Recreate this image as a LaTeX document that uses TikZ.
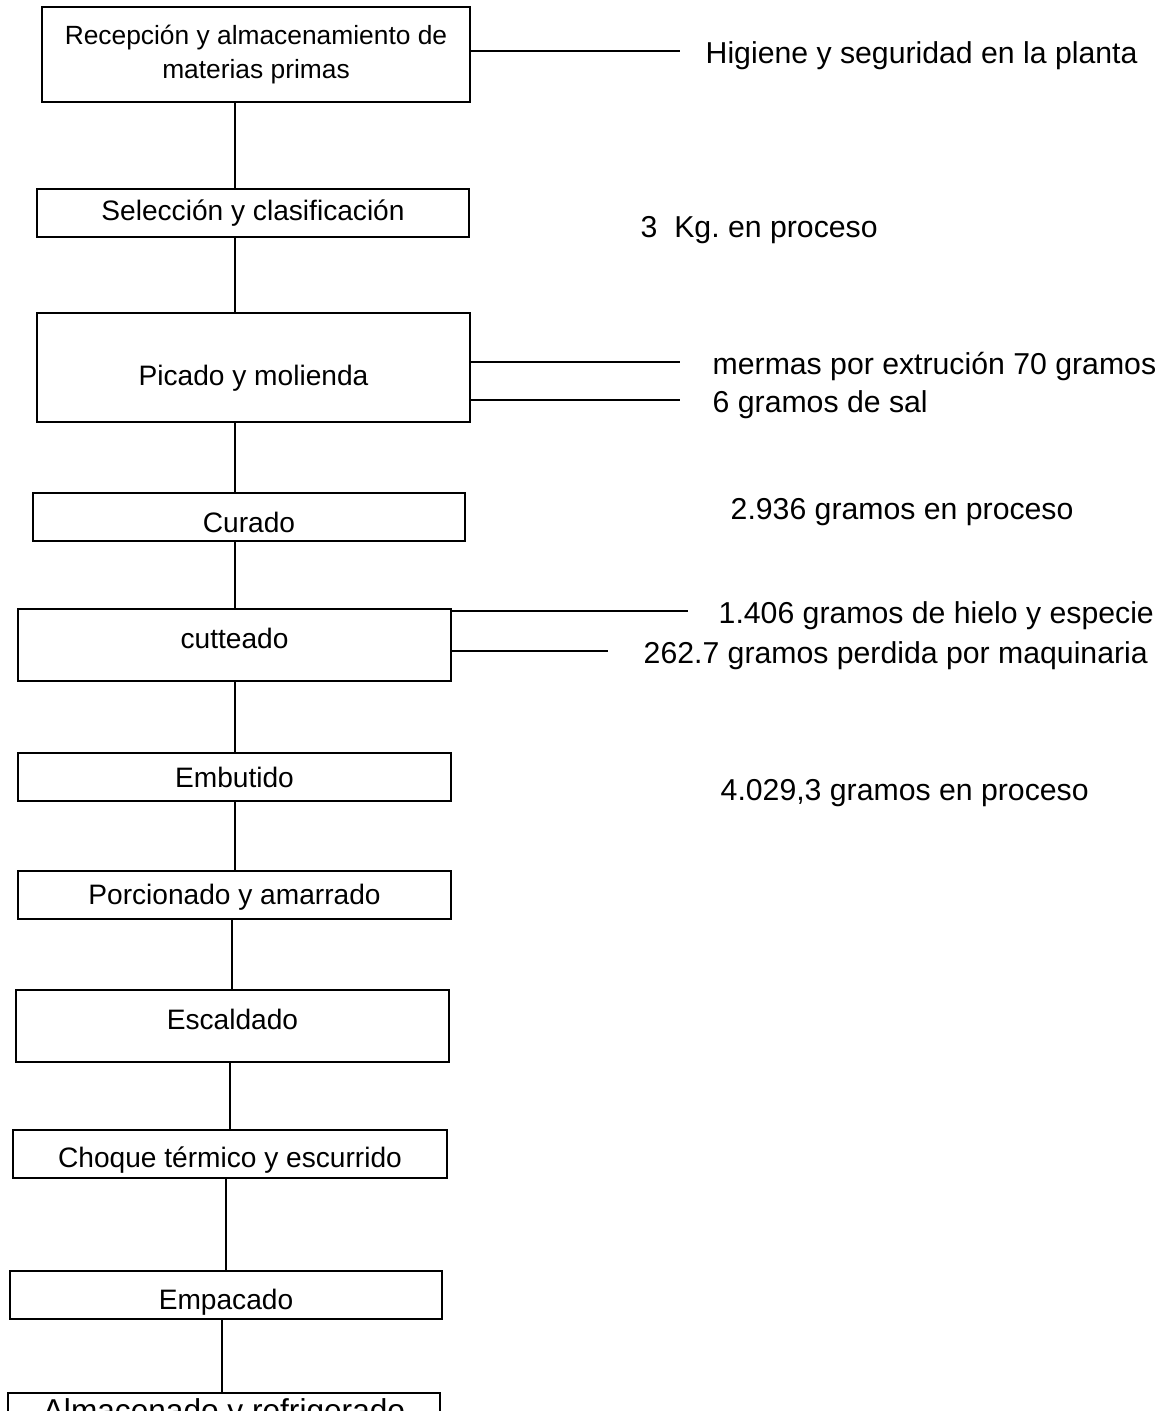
\documentclass[tikz,border=0pt]{standalone}
\usepackage{fontspec}
\setmainfont{Liberation Sans}
\usetikzlibrary{positioning}

\begin{document}
\begin{tikzpicture}[
		paso/.style={draw, line width=0.7pt, outer sep=0pt, inner xsep=2pt, inner ysep=0pt, minimum width=4.33cm, minimum height=0.48cm, font=\fontsize{8}{9.6}\selectfont},
		nota/.style={inner sep=0pt, anchor=west, text height=0.72em, text depth=0pt, font=\fontsize{8.6}{10}\selectfont},
		linea/.style={line width=0.7pt}
	]
			\useasboundingbox (0,0) rectangle (11.7,-14.11);
			% pasos del proceso
			\node[paso, anchor=north west, minimum width=4.28cm, minimum height=0.95cm, align=center, font=\fontsize{7.5}{9.7}\selectfont] (recep) at (0.42,-0.07) {Recepción y almacenamiento de\\materias primas} ;
			\node[paso, below right=0.87cm and -0.05cm of recep.south west, minimum width=4.32cm] (selec) {Selección y clasificación} ;
			\node[paso, below right=0.76cm and 0cm of selec.south west, minimum height=1.09cm, text height=12pt] (picado) {Picado y molienda} ;
			\node[paso, below right=0.71cm and -0.04cm of picado.south west, minimum width=4.32cm, text height=8.7pt] (curado) {Curado} ;
			\node[paso, below right=0.68cm and -0.15cm of curado.south west, minimum height=0.72cm, text depth=4pt] (cutte) {cutteado} ;
			\node[paso, below right=0.72cm and 0cm of cutte.south west] (embut) {Embutido} ;
			\node[paso, below right=0.70cm and 0cm of embut.south west, text height=7pt] (porcion) {Porcionado y amarrado} ;
			\node[paso, below right=0.71cm and -0.02cm of porcion.south west, minimum height=0.72cm, text depth=4pt] (escald) {Escaldado} ;
			\node[paso, below right=0.68cm and -0.03cm of escald.south west, minimum width=4.34cm, text height=9.2pt] (choque) {Choque térmico y escurrido} ;
			\node[paso, below right=0.93cm and -0.03cm of choque.south west, minimum width=4.32cm, text height=9.8pt] (empac) {Empacado} ;
			\node[paso, below right=0.74cm and -0.02cm of empac.south west, minimum width=4.32cm, minimum height=0.40cm, font=\fontsize{9}{11}\selectfont] (almac) {Almacenado y refrigerado} ;
			% notas a la derecha
			\node[nota] (higiene) at (7.05,-0.51) {Higiene y seguridad en la planta} ;
			\node[nota] (kg) at (6.40,-2.25) {3\ \ Kg.\ en proceso} ;
			\node[nota] (mermas) at (7.12,-3.62) {mermas por extrución 70 gramos} ;
			\node[nota] (sal) at (7.12,-4.00) {6 gramos de sal} ;
			\node[nota] (proc1) at (7.30,-5.07) {2.936 gramos en proceso} ;
			\node[nota] (hielo) at (7.18,-6.11) {1.406 gramos de hielo y especie} ;
			\node[nota] (maquina) at (6.43,-6.51) {262.7 gramos perdida por maquinaria} ;
			\node[nota] (proc2) at (7.20,-7.88) {4.029,3 gramos en proceso} ;
			% ejes verticales
			\coordinate (ejeA) at (2.35,0) ;
			\coordinate (ejeB) at (2.32,0) ;
			\coordinate (ejeC) at (2.30,0) ;
			\coordinate (ejeD) at (2.26,0) ;
			\coordinate (ejeE) at (2.22,0) ;
			\foreach \a/\b/\e in {recep/selec/ejeA, selec/picado/ejeA, picado/curado/ejeA, curado/cutte/ejeA, cutte/embut/ejeA, embut/porcion/ejeA, porcion/escald/ejeB, escald/choque/ejeC, choque/empac/ejeD, empac/almac/ejeE}
				\draw[linea] (\a.south -| \e) -- (\b.north -| \e) ;
			\draw[linea] (recep.east |- higiene) -- ([xshift=-2.5mm]higiene.west) ;
			\draw[linea] (picado.east |- mermas) -- ([xshift=-3.2mm]mermas.west) ;
			\draw[linea] (picado.east |- sal) -- ([xshift=-3.2mm]sal.west) ;
			\draw[linea] (cutte.east |- hielo) -- ([xshift=-3mm]hielo.west) ;
			\draw[linea] (cutte.east |- maquina) -- ([xshift=-3.5mm]maquina.west) ;
		\end{tikzpicture}
\end{document}
